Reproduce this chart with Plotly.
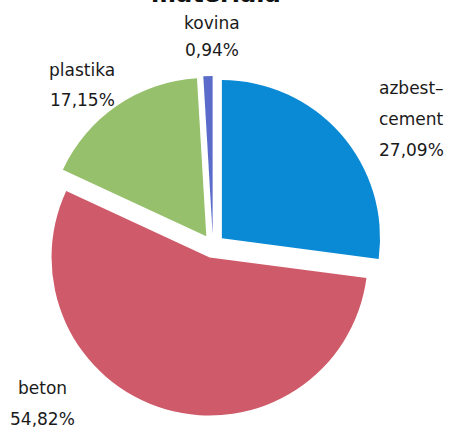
import plotly.graph_objects as go

# Share of pipe network by material (%)
materials = ["azbest-cement", "beton", "plastika", "kovina"]
shares = [27.09, 54.82, 17.15, 0.94]
label_lines = [["azbest–", "cement"], ["beton"], ["plastika"], ["kovina"]]
colors = ["#0a89d4", "#cf5a69", "#97c06c", "#5a6bca"]

W, H = 451, 429
FONT = "DejaVu Sans"


def pct(v):
    return f"{v:.2f}".replace(".", ",") + "%"


fig = go.Figure(
    go.Pie(
        labels=materials,
        values=shares,
        sort=False,
        direction="clockwise",
        rotation=0,
        pull=[0.075] * len(shares),
        marker=dict(colors=colors, line=dict(color="white", width=0)),
        textinfo="none",
        hoverinfo="label+percent",
        showlegend=False,
        domain=dict(x=[0.0953, 0.8492], y=[0.0303, 0.8228]),
    )
)

# label anchor points (pixel centres) for each slice's text block
label_pos = [(411, 88, 31), (42, 388, 31), (82, 70, 30), (212, 23, 27)]

annotations = []
for lines, v, (px, py, step) in zip(label_lines, shares, label_pos):
    for k, line in enumerate(lines + [pct(v)]):
        annotations.append(
            dict(
                text=line,
                x=px / W,
                y=1 - (py + k * step) / H,
                xref="paper",
                yref="paper",
                xanchor="center",
                yanchor="middle",
                showarrow=False,
                font=dict(family=FONT, size=17, color="#1a1a1a"),
            )
        )

annotations.append(
    dict(
        text="<b>materiala</b>",
        x=216 / W,
        y=1 - 10 / H,
        xref="paper",
        yref="paper",
        xanchor="center",
        yanchor="bottom",
        showarrow=False,
        font=dict(family=FONT, size=24, color="#111111"),
    )
)

fig.update_layout(
    width=W,
    height=H,
    margin=dict(l=0, r=0, t=0, b=0),
    paper_bgcolor="white",
    plot_bgcolor="white",
    annotations=annotations,
)

fig.write_html("out.html")
